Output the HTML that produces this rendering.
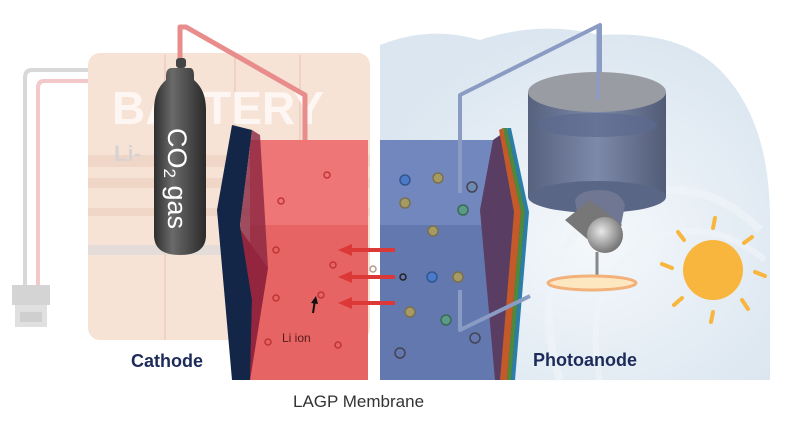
<!DOCTYPE html>
<html><head><meta charset="utf-8"><style>
html,body{margin:0;padding:0;background:#fff;width:791px;height:421px;overflow:hidden}
svg{display:block}
text{font-family:"Liberation Sans",sans-serif}
</style></head><body>
<svg width="791" height="421" viewBox="0 0 791 421" xmlns="http://www.w3.org/2000/svg">
<defs>
<linearGradient id="cyl" x1="0" x2="1"><stop offset="0" stop-color="#2e2e2e"/><stop offset=".35" stop-color="#6a6a6a"/><stop offset="1" stop-color="#2a2a2a"/></linearGradient>
<linearGradient id="pc" x1="0" x2="1"><stop offset="0" stop-color="#4f5a78"/><stop offset=".5" stop-color="#7784a4"/><stop offset="1" stop-color="#4a5470"/></linearGradient>
<radialGradient id="wave" cx=".55" cy=".6" r=".6"><stop offset="0" stop-color="#f4f8fb"/><stop offset="1" stop-color="#dbe6f0"/></radialGradient>
<radialGradient id="lens" cx=".4" cy=".4" r=".6"><stop offset="0" stop-color="#e8e8e8"/><stop offset="1" stop-color="#777"/></radialGradient>
</defs>
<!-- wave background -->
<path d="M380 45 Q430 25 480 40 Q540 20 600 35 Q680 30 720 70 Q770 120 770 220 L770 380 L380 380 Z" fill="url(#wave)"/>
<path d="M560 380 Q520 250 620 200 Q700 170 760 230" fill="none" stroke="#eef3f8" stroke-width="8" opacity=".7"/>
<path d="M600 380 Q580 280 650 240 Q710 215 765 260" fill="none" stroke="#eef3f8" stroke-width="6" opacity=".7"/>
<!-- battery background -->
<rect x="88" y="53" width="282" height="287" rx="12" fill="#f6e3d6"/>
<g fill="#f0d6c6"><rect x="88" y="155" width="282" height="12"/><rect x="88" y="178" width="282" height="10"/><rect x="88" y="208" width="282" height="8"/></g>
<rect x="88" y="245" width="282" height="10" fill="#e4dcd8"/>
<g stroke="#efd2c2" stroke-width="2"><line x1="165" y1="55" x2="165" y2="340"/><line x1="235" y1="55" x2="235" y2="340"/><line x1="300" y1="55" x2="300" y2="340"/></g>
<text x="112" y="124" font-size="46" font-weight="bold" fill="#fdf6f2">BATTERY</text>
<text x="114" y="161" font-size="22" font-weight="bold" fill="#d8d2d2">Li-</text>
<!-- left wires -->
<path d="M88 70 H32 Q25 70 25 78 V290" fill="none" stroke="#d8d8d8" stroke-width="4"/>
<path d="M88 81 H44 Q38 81 38 88 V290" fill="none" stroke="#f3c8c8" stroke-width="4"/>
<rect x="12" y="285" width="38" height="20" fill="#d4d4d4"/>
<rect x="15" y="305" width="32" height="22" fill="#e0e0e0"/>
<rect x="20" y="312" width="22" height="10" fill="#cfcfcf"/>
<!-- red tube -->
<path d="M180 58 V27 H186 L305 95 V195" fill="none" stroke="#e88c8c" stroke-width="5" stroke-linejoin="round"/>
<!-- gas cylinder -->
<rect x="176" y="58" width="10" height="10" rx="3" fill="#444"/>
<path d="M172 68 h18 q4 0 4 8 v4 q12 10 12 30 v125 q0 20 -26 20 q-26 0 -26 -20 v-125 q0 -20 12 -30 v-4 q0 -8 6 -8z" fill="url(#cyl)"/>
<text transform="translate(168,128) rotate(90)" font-size="27" fill="#fff">CO<tspan font-size="17" dy="4">2</tspan><tspan dy="-4"> gas</tspan></text>
<!-- blue chamber -->
<rect x="380" y="140" width="117" height="240" fill="#7187bd"/>
<rect x="380" y="225" width="117" height="155" fill="#6378ae"/>
<!-- red chamber -->
<rect x="250" y="140" width="118" height="240" fill="#ee7676"/>
<rect x="250" y="225" width="118" height="155" fill="#e66464"/>
<polygon points="237,225 268,268 250,380 237,380" fill="#b82a3a"/>
<!-- cathode plate -->
<polygon points="232,125 252,130 240,225 252,300 250,380 232,380 217,210" fill="#132647"/>
<polygon points="252,130 260,135 268,268 250,380 252,300 240,225" fill="#8a2540" opacity=".8"/>
<!-- photoanode plate -->
<polygon points="493,140 510,128 527,210 512,380 495,380 480,210" fill="#5a3d62"/>
<polygon points="499,130 503,128 521,212 507,380 500,380 514,212" fill="#c45a2a"/>
<polygon points="503,128 507,128 525,212 511,380 507,380 521,212" fill="#4c8a3c"/>
<polygon points="507,128 511,128 529,212 515,380 511,380 525,212" fill="#2c7ea8"/>
<!-- blue wire -->
<path d="M460 193 V95 L600 25 V90" fill="none" stroke="#8a9cc4" stroke-width="4" stroke-linejoin="round"/>
<path d="M460 290 V330 L530 296" fill="none" stroke="#8a9cc4" stroke-width="4" stroke-linejoin="round"/>
<!-- arrows -->
<g stroke="#dd3838" stroke-width="4" fill="#dd3838">
<line x1="395" y1="250" x2="350" y2="250"/><polygon points="338,250 352,244 352,256" stroke="none"/>
<line x1="395" y1="277" x2="350" y2="277"/><polygon points="338,277 352,271 352,283" stroke="none"/>
<line x1="395" y1="303" x2="350" y2="303"/><polygon points="338,303 352,297 352,309" stroke="none"/>
</g>
<!-- red dots -->
<g fill="none" stroke="#c23434" stroke-width="1.5">
<circle cx="327" cy="175" r="3"/><circle cx="281" cy="201" r="3"/><circle cx="276" cy="250" r="3"/><circle cx="333" cy="265" r="3"/><circle cx="276" cy="298" r="3"/><circle cx="321" cy="295" r="3"/><circle cx="268" cy="342" r="3"/><circle cx="338" cy="345" r="3"/>
</g>
<circle cx="373" cy="269" r="3" fill="none" stroke="#b89a8a" stroke-width="1.5"/>
<path d="M313 313 L315 300" stroke="#111" stroke-width="2"/><polygon points="316,296 311,303 318,304" fill="#111"/>
<text x="282" y="342" font-size="12" fill="#5a1a1a">Li ion</text>
<!-- blue chamber dots -->
<g stroke-width="1.5">
<circle cx="405" cy="180" r="5" fill="#4a7ac8" stroke="#33558f"/><circle cx="438" cy="178" r="5" fill="#a59a62" stroke="#7a7050"/><circle cx="405" cy="203" r="5" fill="#a59a62" stroke="#7a7050"/><circle cx="472" cy="187" r="5" fill="#6f8ab0" stroke="#445"/><circle cx="463" cy="210" r="5" fill="#5c9a88" stroke="#3a6a5a"/><circle cx="433" cy="231" r="5" fill="#a59a62" stroke="#7a7050"/><circle cx="403" cy="277" r="3" fill="none" stroke="#222"/><circle cx="432" cy="277" r="5" fill="#4a7ac8" stroke="#33558f"/><circle cx="458" cy="277" r="5" fill="#a59a62" stroke="#7a7050"/><circle cx="410" cy="312" r="5" fill="#a59a62" stroke="#7a7050"/><circle cx="446" cy="320" r="5" fill="#5c9a88" stroke="#3a6a5a"/><circle cx="400" cy="353" r="5" fill="none" stroke="#445"/><circle cx="475" cy="338" r="5" fill="none" stroke="#445"/>
</g>
<!-- photo cell cylinder -->
<rect x="528" y="92" width="138" height="105" fill="url(#pc)" opacity=".95"/>
<ellipse cx="597" cy="197" rx="69" ry="16" fill="#5a6686"/>
<ellipse cx="597" cy="92" rx="69" ry="20" fill="#9a9ca4"/>
<ellipse cx="597" cy="125" rx="60" ry="12" fill="#5c6a90" opacity=".7"/>
<line x1="598" y1="25" x2="598" y2="100" stroke="#8a9cc4" stroke-width="3"/>
<path d="M575 200 Q580 190 600 190 Q620 190 625 205 L620 230 L580 230 Z" fill="#6f7792"/>
<path d="M565 220 L590 200 L622 225 L600 250 Z" fill="#777"/>
<ellipse cx="605" cy="235" rx="18" ry="18" fill="url(#lens)"/>
<line x1="597" y1="252" x2="597" y2="278" stroke="#888" stroke-width="3"/>
<ellipse cx="592" cy="283" rx="44" ry="7" fill="#fde7c0" stroke="#f2b07a" stroke-width="3"/>
<!-- sun -->
<circle cx="713" cy="270" r="30" fill="#f8b63e"/>
<g stroke="#f8b63e" stroke-width="4" stroke-linecap="round">
<line x1="713" y1="228" x2="715" y2="218"/><line x1="713" y1="312" x2="711" y2="322"/><line x1="672" y1="268" x2="662" y2="264"/><line x1="755" y1="272" x2="765" y2="276"/>
<line x1="684" y1="240" x2="678" y2="232"/><line x1="744" y1="243" x2="752" y2="237"/><line x1="682" y1="298" x2="674" y2="305"/><line x1="742" y1="300" x2="748" y2="309"/>
</g>
<!-- labels -->
<text x="131" y="367" font-size="18" font-weight="bold" fill="#1d2b5a">Cathode</text>
<text x="533" y="366" font-size="18" font-weight="bold" fill="#1d2b5a">Photoanode</text>
<text x="293" y="407" font-size="17" fill="#333">LAGP Membrane</text>
</svg>
</body></html>
